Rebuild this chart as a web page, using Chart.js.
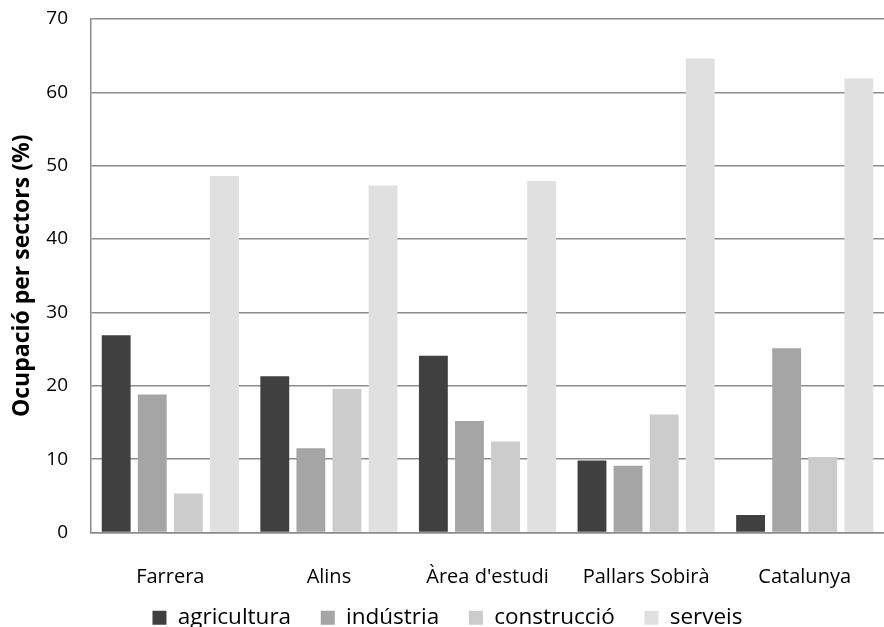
<!DOCTYPE html>
<html>
<head>
<meta charset="utf-8">
<script src="https://cdn.jsdelivr.net/npm/chart.js@4/dist/chart.umd.min.js"></script>
<style>
  html, body { margin: 0; padding: 0; background: #fff; }
  #wrap { width: 884px; height: 627px; }
</style>
</head>
<body>
<div id="wrap"><canvas id="chart" width="884" height="627"></canvas></div>
<script>
/* ================= DATA ================= */
const categories = ["Farrera", "Alins", "Àrea d'estudi", "Pallars Sobirà", "Catalunya"];
const agricultura = [26.9, 21.3, 24.1, 9.8, 2.4];
const industria   = [18.8, 11.5, 15.2, 9.1, 25.1];
const construccio = [5.3, 19.6, 12.4, 16.1, 10.3];
const serveis     = [48.6, 47.3, 47.9, 64.6, 61.9];
const yTicks = [0, 10, 20, 30, 40, 50, 60, 70];

const FONT = "'Open Sans', 'Noto Sans', sans-serif";
Chart.defaults.font.family = FONT;
Chart.defaults.font.size = 20;
Chart.defaults.color = "#000";

function ds(label, data, color) {
  return {
    label,
    data,
    backgroundColor: color,
    borderWidth: 0,
    barPercentage: 0.8,
    categoryPercentage: 0.91
  };
}

// legend items sit further apart than its vertical padding, so pad the text
function legendLabels(chart) {
  const items = Chart.defaults.plugins.legend.labels.generateLabels(chart);
  items.forEach((it, i) => {
    if (i < items.length - 1) it.text += "  ";
  });
  return items;
}

/* ================= CHART ================= */
new Chart(document.getElementById("chart"), {
  type: "bar",
  data: {
    labels: categories,
    datasets: [
      ds("agricultura", agricultura, "#404040"),
      ds("indústria", industria, "#a5a5a5"),
      ds("construcció", construccio, "#cccccc"),
      ds("serveis", serveis, "#e0e0e0")
    ]
  },
  options: {
    responsive: false,
    animation: false,
    layout: { padding: { left: 0, top: 19, right: -11, bottom: -12 } },
    plugins: {
      tooltip: { enabled: false },
      legend: {
        position: "bottom",
        labels: {
          font: { size: 22.5 },
          boxWidth: 14,
          boxHeight: 14,
          padding: 18,
          generateLabels: legendLabels
        }
      }
    },
    scales: {
      x: {
        afterFit: axis => {
          axis.height = 56;
          axis.paddingLeft = 0;
          axis.paddingRight = 0;
        },
        grid: { display: false, drawTicks: false },
        border: { color: "#8c8c8c", width: 1.5 },
        ticks: { font: { size: 20 }, padding: 33 }
      },
      y: {
        min: 0,
        max: 70,
        afterFit: axis => {
          axis.width = 91;
          axis.paddingTop = 0;
          axis.paddingBottom = 0;
        },
        afterBuildTicks: axis => { axis.ticks = yTicks.map(v => ({ value: v })); },
        grid: { color: "#8c8c8c", lineWidth: 1.5, drawTicks: false },
        border: { color: "#8c8c8c", width: 1.5 },
        ticks: { font: { size: 19 }, padding: 23 },
        title: {
          display: true,
          text: "Ocupació per sectors (%)",
          font: { size: 23, weight: "bold" },
          padding: { top: 9, bottom: 0 }
        }
      }
    }
  }
});
</script>
</body>
</html>
